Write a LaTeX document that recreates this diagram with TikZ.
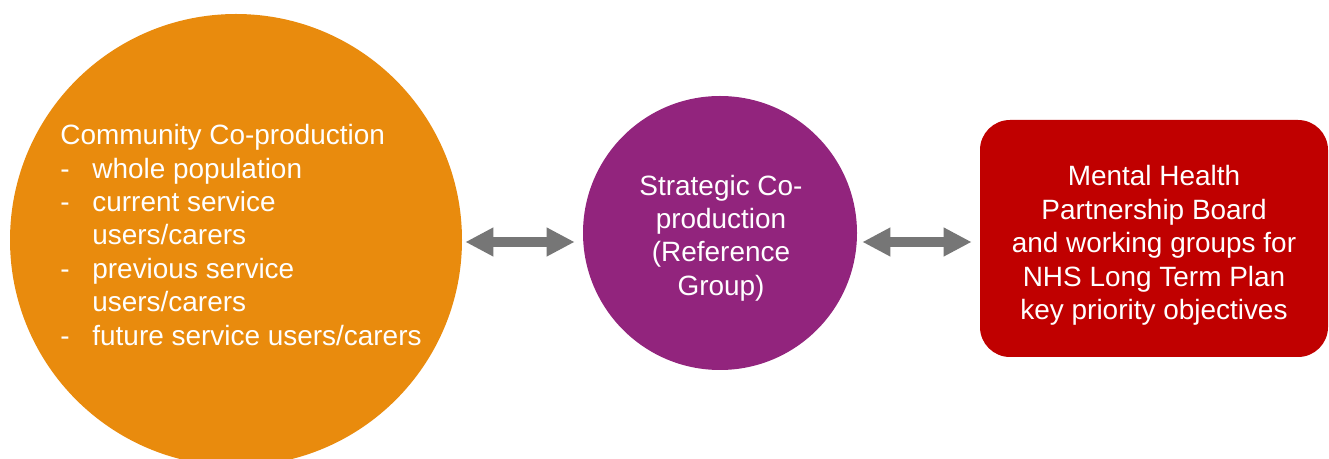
\documentclass[tikz,border=0pt]{standalone}
\usepackage{fontspec}
\setmainfont{Liberation Sans}
\usetikzlibrary{arrows.meta}
\definecolor{commorange}{RGB}{233,139,13}
\definecolor{stratpurple}{RGB}{146,36,125}
\definecolor{boardred}{RGB}{192,0,0}
\definecolor{arrowgrey}{RGB}{118,118,118}
\newcommand{\dashitem}{\makebox[0.64cm][l]{-}}
\begin{document}
\begin{tikzpicture}[
        every node/.style={font=\fontsize{15.9pt}{19pt}\selectfont, text=white, inner sep=0pt},
        blob/.style={circle, fill=#1},
        link/.style={draw=arrowgrey, line width=0.2cm,
            {Triangle[width=0.54cm,length=0.56cm]}-{Triangle[width=0.54cm,length=0.56cm]}}
    ]
                \useasboundingbox[fill=white] (0,0) rectangle (26.58,9.18);

                \node[blob=commorange, minimum size=9.04cm] (community) at (4.72,4.38) {};
                \node[blob=stratpurple, minimum size=5.48cm] (strategic) at (14.40,4.52) {};
                \node[fill=boardred, rounded corners=0.6cm, minimum width=6.96cm, minimum height=4.74cm] (board) at (23.08,4.41) {};

                \node[align=left] (communitytext) at (4.82,4.48)
                    {Community Co-production\\
                     \dashitem whole population\\
                     \dashitem current service\\
                     \hspace*{0.64cm}users/carers\\
                     \dashitem previous service\\
                     \hspace*{0.64cm}users/carers\\
                     \dashitem future service users/carers};
                \node[align=center] (strategictext) at (14.42,4.42)
                    {Strategic Co-\\ production\\ (Reference\\ Group)};
                \node[align=center] (boardtext) at (23.08,4.27)
                    {Mental Health\\ Partnership Board\\ and working groups for\\ NHS Long Term Plan\\ key priority objectives};

                \coordinate (row) at (0,4.34);
                \draw[link, shorten <=0.06cm, shorten >=0.16cm] (community.east |- row) -- (strategic.west |- row);
                \draw[link, shorten <=0.10cm, shorten >=0.16cm] (strategic.east |- row) -- (board.west |- row);
            \end{tikzpicture}
\end{document}
